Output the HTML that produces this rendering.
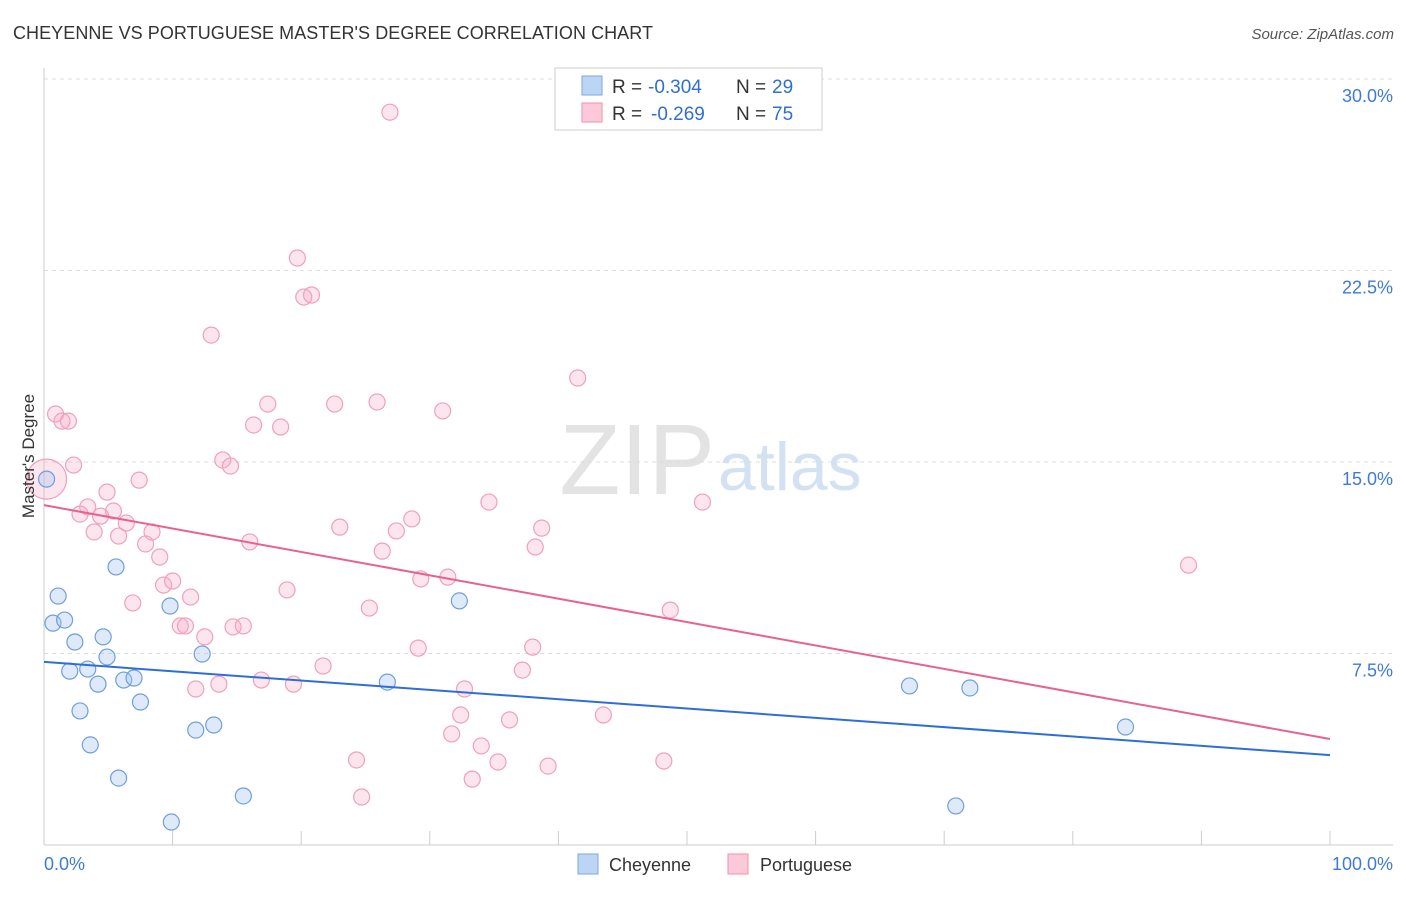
<!DOCTYPE html>
<html><head><meta charset="utf-8">
<style>
body{margin:0;background:#fff;font-family:"Liberation Sans",sans-serif;}
svg text{font-family:"Liberation Sans",sans-serif;}
</style></head>
<body>
<svg id="chart" width="1406" height="892" xmlns="http://www.w3.org/2000/svg">
<text x="13" y="39" font-size="18" fill="#333" textLength="640">CHEYENNE VS PORTUGUESE MASTER'S DEGREE CORRELATION CHART</text>
<text x="1394" y="39" font-size="15" fill="#555" text-anchor="end" font-style="italic">Source: ZipAtlas.com</text>
<text x="715" y="494" font-size="100" text-anchor="end" fill="#ddd" font-family="Liberation Serif" opacity="0.8">ZIP</text>
<text x="718" y="490" font-size="68" fill="#c9dbf0" opacity="0.8">atlas</text>
<g id="grid"></g>
<g id="axes"></g>
<g id="marks"></g>
<text transform="translate(34,456) rotate(-90)" font-size="17" fill="#333" text-anchor="middle">Master's Degree</text>
<g>
<rect x="555" y="68" width="267" height="62" fill="#fff" stroke="#ccc"/>
<rect x="582" y="76" width="20" height="19" fill="#bcd5f5" stroke="#7aa6e0"/>
<rect x="582" y="103" width="20" height="19" fill="#fbc9d8" stroke="#f08fb0"/>
<text x="612" y="93" font-size="19" fill="#333">R =</text>
<text x="648" y="93" font-size="19" fill="#2f6fd1">-0.304</text>
<text x="736" y="93" font-size="19" fill="#333">N =</text>
<text x="772" y="93" font-size="19" fill="#2f6fd1">29</text>
<text x="612" y="120" font-size="19" fill="#333">R =</text>
<text x="651" y="120" font-size="19" fill="#2f6fd1">-0.269</text>
<text x="736" y="120" font-size="19" fill="#333">N =</text>
<text x="772" y="120" font-size="19" fill="#2f6fd1">75</text>
</g>
<g>
<rect x="578" y="854" width="20" height="20" fill="#bcd5f5" stroke="#7aa6e0"/>
<text x="609" y="871" font-size="18" fill="#333">Cheyenne</text>
<rect x="728" y="854" width="20" height="20" fill="#fbc9d8" stroke="#f08fb0"/>
<text x="760" y="871" font-size="18" fill="#333">Portuguese</text>
</g>
</svg>
<script>
const yTicks=[7.5,15,22.5,30];
const yTickLabels=["7.5%","15.0%","22.5%","30.0%"];
const cheyenneX=[0.2,1.1,0.7,1.6,2.4,4.6,2.0,3.4,4.2,4.9,6.2,7.0,5.6,2.8,7.5,3.6,5.8,9.8,12.3,11.8,13.2,15.5,9.9,26.7,32.3,67.3,72.0,84.1,70.9];
const cheyenneY=[14.33,9.75,8.69,8.81,7.95,8.15,6.81,6.89,6.30,7.36,6.46,6.54,10.89,5.25,5.60,3.92,2.62,9.36,7.48,4.50,4.70,1.92,0.90,6.38,9.56,6.23,6.15,4.62,1.53];
const portX=[26.9,19.7,20.2,20.8,13.0,41.5,0.9,1.4,1.9,17.4,22.6,25.9,31.0,16.3,18.4,13.9,14.5,2.3,7.4,4.9,3.4,5.4,2.8,4.4,6.4,3.9,5.8,8.4,7.9,16.0,23.0,28.6,34.6,51.2,38.7,27.4,26.3,38.2,9.0,9.3,10.0,11.4,6.9,18.9,29.3,31.4,25.3,48.7,10.6,11.0,14.7,15.5,12.5,29.1,38.0,21.7,37.2,16.9,19.4,13.6,11.8,32.7,32.4,43.5,36.2,31.7,34.0,24.3,35.3,39.2,48.2,33.3,24.7,89.0,0.2];
const portY=[28.70,22.99,21.46,21.54,19.97,18.29,16.88,16.60,16.60,17.27,17.27,17.35,17.00,16.45,16.37,15.08,14.84,14.88,14.29,13.82,13.24,13.08,12.96,12.88,12.61,12.26,12.10,12.26,11.79,11.87,12.45,12.77,13.43,13.43,12.41,12.30,11.51,11.67,11.28,10.18,10.34,9.71,9.48,9.99,10.42,10.49,9.28,9.20,8.58,8.58,8.54,8.58,8.15,7.71,7.75,7.01,6.85,6.46,6.30,6.30,6.11,6.11,5.09,5.09,4.90,4.35,3.88,3.33,3.25,3.09,3.29,2.58,1.88,10.96,14.33];
const cheyenneTrend=[7.17,3.52];
const portTrend=[13.31,4.15];
const NS="http://www.w3.org/2000/svg";
const X=v=>44+v*12.86;
const Y=v=>845-v*191.5/7.5;
function mk(t,a,p){const e=document.createElementNS(NS,t);for(const k in a)e.setAttribute(k,a[k]);p.appendChild(e);return e;}
const grid=document.getElementById('grid'),axes=document.getElementById('axes'),marks=document.getElementById('marks');
yTicks.forEach((t,i)=>{
 const l=mk('line',{x1:44,x2:1393,y1:Y(t),y2:Y(t),stroke:'#ddd','stroke-dasharray':'4,4'},grid);
 
 
 const tx=mk('text',{x:1393,y:Y(t)+23,'font-size':18,fill:'#3d7bd8','text-anchor':'end'},axes);
 tx.textContent=yTickLabels[i];
 
 
});
const ya=mk('line',{x1:44,x2:44,y1:68,y2:845,stroke:'#ccc'},axes);


const xa=mk('line',{x1:44,x2:1393,y1:845,y2:845,stroke:'#ccc'},axes);


for(let i=0;i<=10;i++){const t=mk('line',{x1:X(i*10),x2:X(i*10),y1:845,y2:831,stroke:'#ccc'},axes);
 
 }
[[0,'0.0%','start',44],[100,'100.0%','end',1393]].forEach(d=>{const t=mk('text',{x:d[3],y:870,'font-size':18,fill:'#3d7bd8','text-anchor':d[2]},axes);t.textContent=d[1];
 
 });
portX.forEach((x,i)=>{const r=i===portX.length-1?20:8;const c=mk('circle',{cx:X(x),cy:Y(portY[i]),r:r,fill:'rgba(248,170,195,0.3)',stroke:'#f0a0bb','stroke-width':1.2},marks);
 
 });
cheyenneX.forEach((x,i)=>{const c=mk('circle',{cx:X(x),cy:Y(cheyenneY[i]),r:8,fill:'rgba(160,195,240,0.35)',stroke:'#6f9fdc','stroke-width':1.2},marks);
 
 });
const pl=mk('line',{x1:X(0),x2:X(100),y1:Y(portTrend[0]),y2:Y(portTrend[1]),stroke:'#e8628e','stroke-width':2},marks);


const cl=mk('line',{x1:X(0),x2:X(100),y1:Y(cheyenneTrend[0]),y2:Y(cheyenneTrend[1]),stroke:'#2d6fd6','stroke-width':2},marks);


</script>
</body></html>
